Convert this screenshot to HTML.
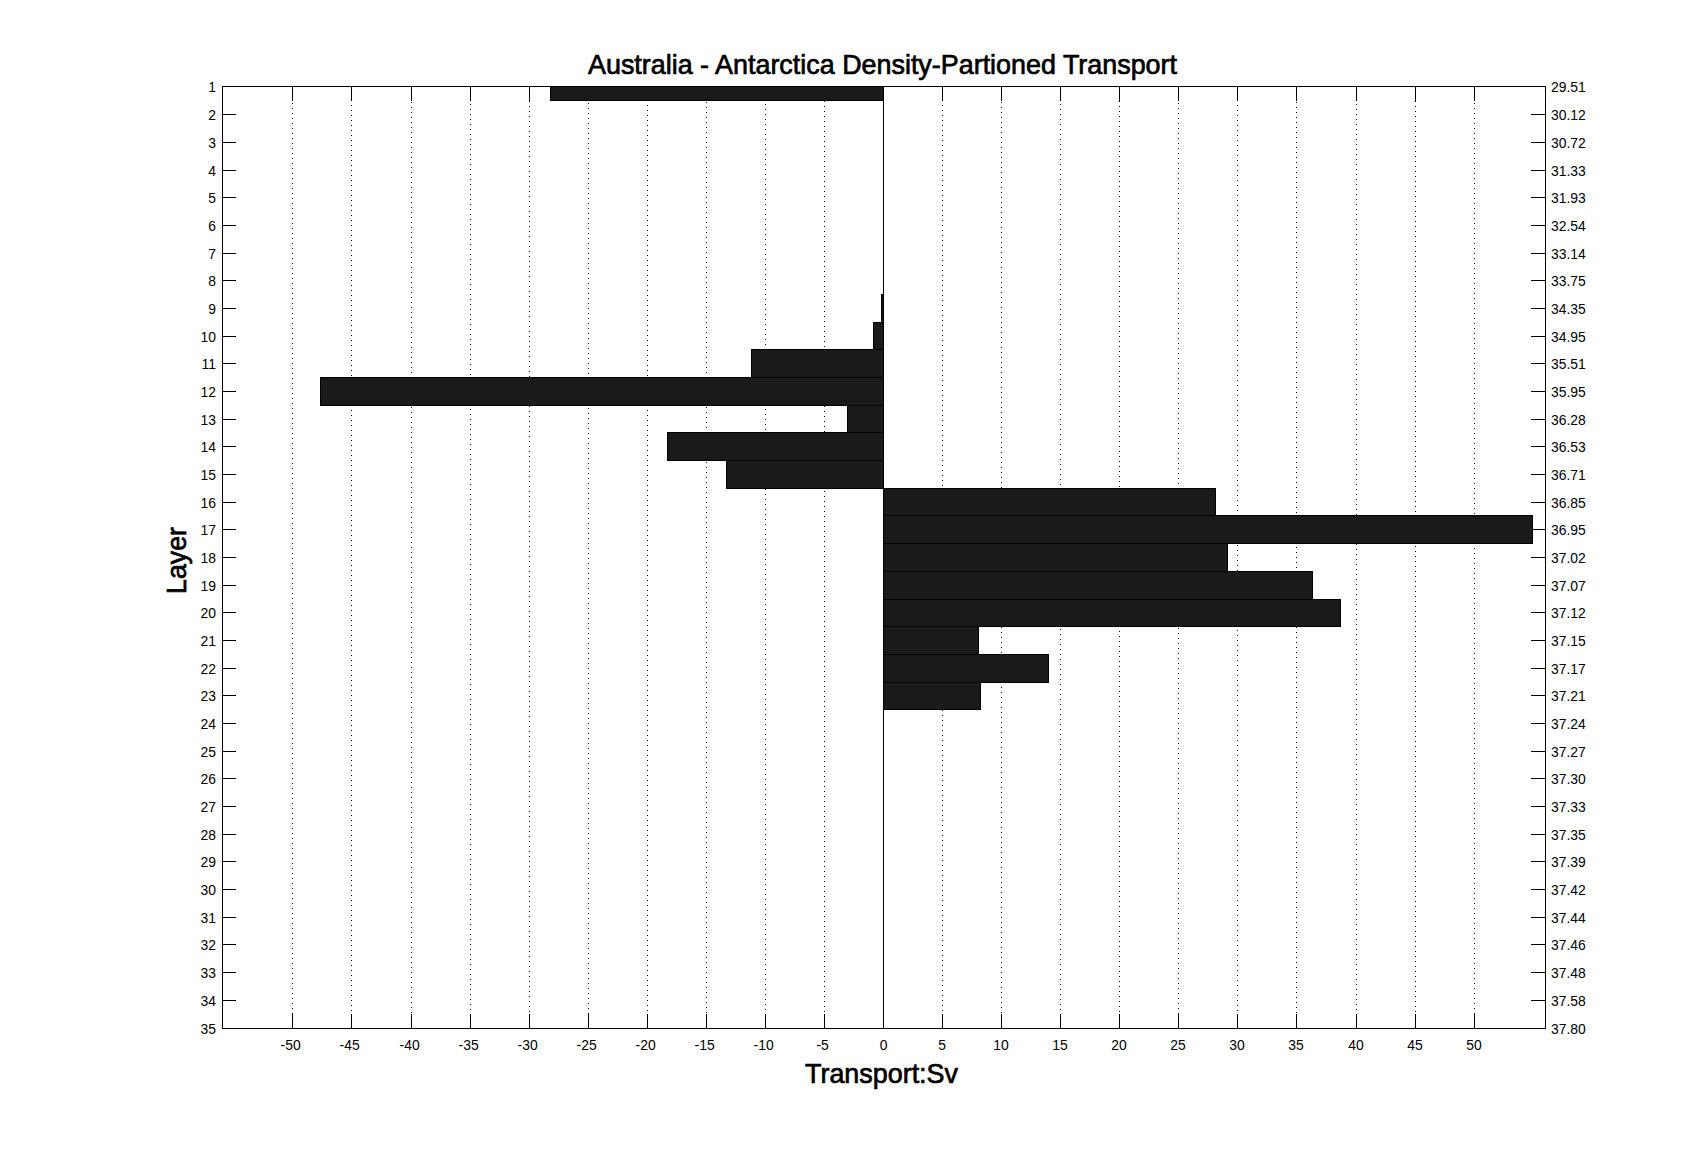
<!DOCTYPE html>
<html lang="en"><head><meta charset="utf-8"><title>Australia - Antarctica Density-Partioned Transport</title>
<style>html,body{margin:0;padding:0;background:#fff;}body{width:1707px;height:1155px;overflow:hidden;}svg{display:block;}
text{font-family:"Liberation Sans",sans-serif;fill:#000;}
.tk{font-size:13.9px;stroke:#000;stroke-width:0.0;}
.big{font-size:27.4px;stroke:#000;stroke-width:0.7;}
.ttl{font-size:27.4px;stroke:#000;stroke-width:0.7;}
</style></head><body>
<svg width="1707" height="1155" viewBox="0 0 1707 1155">
<rect x="0" y="0" width="1707" height="1155" fill="#fff"/>
<g shape-rendering="crispEdges" fill="#000">
<line x1="292.5" y1="103" x2="292.5" y2="1014" stroke="#000" stroke-width="1" stroke-dasharray="1 4"/>
<line x1="351.5" y1="105" x2="351.5" y2="1011" stroke="#000" stroke-width="1" stroke-dasharray="1 4"/>
<line x1="411.5" y1="102" x2="411.5" y2="1013" stroke="#000" stroke-width="1" stroke-dasharray="1 4"/>
<line x1="470.5" y1="104" x2="470.5" y2="1010" stroke="#000" stroke-width="1" stroke-dasharray="1 4"/>
<line x1="529.5" y1="101" x2="529.5" y2="1012" stroke="#000" stroke-width="1" stroke-dasharray="1 4"/>
<line x1="588.5" y1="103" x2="588.5" y2="1014" stroke="#000" stroke-width="1" stroke-dasharray="1 4"/>
<line x1="647.5" y1="105" x2="647.5" y2="1011" stroke="#000" stroke-width="1" stroke-dasharray="1 4"/>
<line x1="706.5" y1="102" x2="706.5" y2="1013" stroke="#000" stroke-width="1" stroke-dasharray="1 4"/>
<line x1="765.5" y1="104" x2="765.5" y2="1010" stroke="#000" stroke-width="1" stroke-dasharray="1 4"/>
<line x1="824.5" y1="101" x2="824.5" y2="1012" stroke="#000" stroke-width="1" stroke-dasharray="1 4"/>
<line x1="942.5" y1="105" x2="942.5" y2="1011" stroke="#000" stroke-width="1" stroke-dasharray="1 4"/>
<line x1="1001.5" y1="102" x2="1001.5" y2="1013" stroke="#000" stroke-width="1" stroke-dasharray="1 4"/>
<line x1="1060.5" y1="104" x2="1060.5" y2="1010" stroke="#000" stroke-width="1" stroke-dasharray="1 4"/>
<line x1="1119.5" y1="101" x2="1119.5" y2="1012" stroke="#000" stroke-width="1" stroke-dasharray="1 4"/>
<line x1="1178.5" y1="103" x2="1178.5" y2="1014" stroke="#000" stroke-width="1" stroke-dasharray="1 4"/>
<line x1="1237.5" y1="105" x2="1237.5" y2="1011" stroke="#000" stroke-width="1" stroke-dasharray="1 4"/>
<line x1="1296.5" y1="102" x2="1296.5" y2="1013" stroke="#000" stroke-width="1" stroke-dasharray="1 4"/>
<line x1="1356.5" y1="104" x2="1356.5" y2="1010" stroke="#000" stroke-width="1" stroke-dasharray="1 4"/>
<line x1="1415.5" y1="101" x2="1415.5" y2="1012" stroke="#000" stroke-width="1" stroke-dasharray="1 4"/>
<line x1="1474.5" y1="103" x2="1474.5" y2="1014" stroke="#000" stroke-width="1" stroke-dasharray="1 4"/>
</g>
<g shape-rendering="crispEdges" fill="#000">
<rect x="292" y="87" width="1" height="14"/>
<rect x="292" y="1014" width="1" height="14"/>
<rect x="351" y="87" width="1" height="14"/>
<rect x="351" y="1014" width="1" height="14"/>
<rect x="411" y="87" width="1" height="14"/>
<rect x="411" y="1014" width="1" height="14"/>
<rect x="470" y="87" width="1" height="14"/>
<rect x="470" y="1014" width="1" height="14"/>
<rect x="529" y="87" width="1" height="14"/>
<rect x="529" y="1014" width="1" height="14"/>
<rect x="588" y="87" width="1" height="14"/>
<rect x="588" y="1014" width="1" height="14"/>
<rect x="647" y="87" width="1" height="14"/>
<rect x="647" y="1014" width="1" height="14"/>
<rect x="706" y="87" width="1" height="14"/>
<rect x="706" y="1014" width="1" height="14"/>
<rect x="765" y="87" width="1" height="14"/>
<rect x="765" y="1014" width="1" height="14"/>
<rect x="824" y="87" width="1" height="14"/>
<rect x="824" y="1014" width="1" height="14"/>
<rect x="883" y="87" width="1" height="14"/>
<rect x="883" y="1014" width="1" height="14"/>
<rect x="942" y="87" width="1" height="14"/>
<rect x="942" y="1014" width="1" height="14"/>
<rect x="1001" y="87" width="1" height="14"/>
<rect x="1001" y="1014" width="1" height="14"/>
<rect x="1060" y="87" width="1" height="14"/>
<rect x="1060" y="1014" width="1" height="14"/>
<rect x="1119" y="87" width="1" height="14"/>
<rect x="1119" y="1014" width="1" height="14"/>
<rect x="1178" y="87" width="1" height="14"/>
<rect x="1178" y="1014" width="1" height="14"/>
<rect x="1237" y="87" width="1" height="14"/>
<rect x="1237" y="1014" width="1" height="14"/>
<rect x="1296" y="87" width="1" height="14"/>
<rect x="1296" y="1014" width="1" height="14"/>
<rect x="1356" y="87" width="1" height="14"/>
<rect x="1356" y="1014" width="1" height="14"/>
<rect x="1415" y="87" width="1" height="14"/>
<rect x="1415" y="1014" width="1" height="14"/>
<rect x="1474" y="87" width="1" height="14"/>
<rect x="1474" y="1014" width="1" height="14"/>
<rect x="223" y="114" width="13" height="1"/>
<rect x="1531" y="114" width="14" height="1"/>
<rect x="223" y="142" width="13" height="1"/>
<rect x="1531" y="142" width="14" height="1"/>
<rect x="223" y="170" width="13" height="1"/>
<rect x="1531" y="170" width="14" height="1"/>
<rect x="223" y="197" width="13" height="1"/>
<rect x="1531" y="197" width="14" height="1"/>
<rect x="223" y="225" width="13" height="1"/>
<rect x="1531" y="225" width="14" height="1"/>
<rect x="223" y="253" width="13" height="1"/>
<rect x="1531" y="253" width="14" height="1"/>
<rect x="223" y="280" width="13" height="1"/>
<rect x="1531" y="280" width="14" height="1"/>
<rect x="223" y="308" width="13" height="1"/>
<rect x="1531" y="308" width="14" height="1"/>
<rect x="223" y="336" width="13" height="1"/>
<rect x="1531" y="336" width="14" height="1"/>
<rect x="223" y="363" width="13" height="1"/>
<rect x="1531" y="363" width="14" height="1"/>
<rect x="223" y="391" width="13" height="1"/>
<rect x="1531" y="391" width="14" height="1"/>
<rect x="223" y="419" width="13" height="1"/>
<rect x="1531" y="419" width="14" height="1"/>
<rect x="223" y="446" width="13" height="1"/>
<rect x="1531" y="446" width="14" height="1"/>
<rect x="223" y="474" width="13" height="1"/>
<rect x="1531" y="474" width="14" height="1"/>
<rect x="223" y="502" width="13" height="1"/>
<rect x="1531" y="502" width="14" height="1"/>
<rect x="223" y="529" width="13" height="1"/>
<rect x="1531" y="529" width="14" height="1"/>
<rect x="223" y="557" width="13" height="1"/>
<rect x="1531" y="557" width="14" height="1"/>
<rect x="223" y="585" width="13" height="1"/>
<rect x="1531" y="585" width="14" height="1"/>
<rect x="223" y="612" width="13" height="1"/>
<rect x="1531" y="612" width="14" height="1"/>
<rect x="223" y="640" width="13" height="1"/>
<rect x="1531" y="640" width="14" height="1"/>
<rect x="223" y="668" width="13" height="1"/>
<rect x="1531" y="668" width="14" height="1"/>
<rect x="223" y="695" width="13" height="1"/>
<rect x="1531" y="695" width="14" height="1"/>
<rect x="223" y="723" width="13" height="1"/>
<rect x="1531" y="723" width="14" height="1"/>
<rect x="223" y="751" width="13" height="1"/>
<rect x="1531" y="751" width="14" height="1"/>
<rect x="223" y="778" width="13" height="1"/>
<rect x="1531" y="778" width="14" height="1"/>
<rect x="223" y="806" width="13" height="1"/>
<rect x="1531" y="806" width="14" height="1"/>
<rect x="223" y="834" width="13" height="1"/>
<rect x="1531" y="834" width="14" height="1"/>
<rect x="223" y="861" width="13" height="1"/>
<rect x="1531" y="861" width="14" height="1"/>
<rect x="223" y="889" width="13" height="1"/>
<rect x="1531" y="889" width="14" height="1"/>
<rect x="223" y="917" width="13" height="1"/>
<rect x="1531" y="917" width="14" height="1"/>
<rect x="223" y="944" width="13" height="1"/>
<rect x="1531" y="944" width="14" height="1"/>
<rect x="223" y="972" width="13" height="1"/>
<rect x="1531" y="972" width="14" height="1"/>
<rect x="223" y="1000" width="13" height="1"/>
<rect x="1531" y="1000" width="14" height="1"/>
</g>
<g shape-rendering="crispEdges">
<rect x="550" y="86" width="334" height="15" fill="#000"/>
<rect x="551" y="87" width="332" height="13" fill="#1a1a1a"/>
<rect x="881" y="294" width="3" height="29" fill="#000"/>
<rect x="882" y="295" width="1" height="27" fill="#1a1a1a"/>
<rect x="873" y="322" width="11" height="28" fill="#000"/>
<rect x="874" y="323" width="9" height="26" fill="#1a1a1a"/>
<rect x="751" y="349" width="133" height="29" fill="#000"/>
<rect x="752" y="350" width="131" height="27" fill="#1a1a1a"/>
<rect x="320" y="377" width="564" height="29" fill="#000"/>
<rect x="321" y="378" width="562" height="27" fill="#1a1a1a"/>
<rect x="847" y="405" width="37" height="28" fill="#000"/>
<rect x="848" y="406" width="35" height="26" fill="#1a1a1a"/>
<rect x="667" y="432" width="217" height="29" fill="#000"/>
<rect x="668" y="433" width="215" height="27" fill="#1a1a1a"/>
<rect x="726" y="460" width="158" height="29" fill="#000"/>
<rect x="727" y="461" width="156" height="27" fill="#1a1a1a"/>
<rect x="883" y="488" width="333" height="28" fill="#000"/>
<rect x="884" y="489" width="331" height="26" fill="#1a1a1a"/>
<rect x="883" y="515" width="650" height="29" fill="#000"/>
<rect x="884" y="516" width="648" height="27" fill="#1a1a1a"/>
<rect x="883" y="543" width="345" height="29" fill="#000"/>
<rect x="884" y="544" width="343" height="27" fill="#1a1a1a"/>
<rect x="883" y="571" width="430" height="29" fill="#000"/>
<rect x="884" y="572" width="428" height="27" fill="#1a1a1a"/>
<rect x="883" y="599" width="458" height="28" fill="#000"/>
<rect x="884" y="600" width="456" height="26" fill="#1a1a1a"/>
<rect x="883" y="626" width="96" height="29" fill="#000"/>
<rect x="884" y="627" width="94" height="27" fill="#1a1a1a"/>
<rect x="883" y="654" width="166" height="29" fill="#000"/>
<rect x="884" y="655" width="164" height="27" fill="#1a1a1a"/>
<rect x="883" y="682" width="98" height="28" fill="#000"/>
<rect x="884" y="683" width="96" height="26" fill="#1a1a1a"/>
</g>
<g shape-rendering="crispEdges" fill="#000">
<rect x="883" y="86" width="1" height="943"/>
<rect x="222" y="86" width="1324" height="1"/>
<rect x="222" y="1028" width="1324" height="1"/>
<rect x="222" y="86" width="1" height="943"/>
<rect x="1545" y="86" width="1" height="943"/>
</g>
<g class="tk" text-anchor="end">
<text x="216" y="92">1</text>
<text x="216" y="120">2</text>
<text x="216" y="148">3</text>
<text x="216" y="176">4</text>
<text x="216" y="203">5</text>
<text x="216" y="231">6</text>
<text x="216" y="259">7</text>
<text x="216" y="286">8</text>
<text x="216" y="314">9</text>
<text x="216" y="342">10</text>
<text x="216" y="369">11</text>
<text x="216" y="397">12</text>
<text x="216" y="425">13</text>
<text x="216" y="452">14</text>
<text x="216" y="480">15</text>
<text x="216" y="508">16</text>
<text x="216" y="535">17</text>
<text x="216" y="563">18</text>
<text x="216" y="591">19</text>
<text x="216" y="618">20</text>
<text x="216" y="646">21</text>
<text x="216" y="674">22</text>
<text x="216" y="701">23</text>
<text x="216" y="729">24</text>
<text x="216" y="757">25</text>
<text x="216" y="784">26</text>
<text x="216" y="812">27</text>
<text x="216" y="840">28</text>
<text x="216" y="867">29</text>
<text x="216" y="895">30</text>
<text x="216" y="923">31</text>
<text x="216" y="950">32</text>
<text x="216" y="978">33</text>
<text x="216" y="1006">34</text>
<text x="216" y="1034">35</text>
</g>
<g class="tk" text-anchor="start">
<text x="1551" y="92">29.51</text>
<text x="1551" y="120">30.12</text>
<text x="1551" y="148">30.72</text>
<text x="1551" y="176">31.33</text>
<text x="1551" y="203">31.93</text>
<text x="1551" y="231">32.54</text>
<text x="1551" y="259">33.14</text>
<text x="1551" y="286">33.75</text>
<text x="1551" y="314">34.35</text>
<text x="1551" y="342">34.95</text>
<text x="1551" y="369">35.51</text>
<text x="1551" y="397">35.95</text>
<text x="1551" y="425">36.28</text>
<text x="1551" y="452">36.53</text>
<text x="1551" y="480">36.71</text>
<text x="1551" y="508">36.85</text>
<text x="1551" y="535">36.95</text>
<text x="1551" y="563">37.02</text>
<text x="1551" y="591">37.07</text>
<text x="1551" y="618">37.12</text>
<text x="1551" y="646">37.15</text>
<text x="1551" y="674">37.17</text>
<text x="1551" y="701">37.21</text>
<text x="1551" y="729">37.24</text>
<text x="1551" y="757">37.27</text>
<text x="1551" y="784">37.30</text>
<text x="1551" y="812">37.33</text>
<text x="1551" y="840">37.35</text>
<text x="1551" y="867">37.39</text>
<text x="1551" y="895">37.42</text>
<text x="1551" y="923">37.44</text>
<text x="1551" y="950">37.46</text>
<text x="1551" y="978">37.48</text>
<text x="1551" y="1006">37.58</text>
<text x="1551" y="1034">37.80</text>
</g>
<g class="tk" text-anchor="middle">
<text x="290.6" y="1050">-50</text>
<text x="349.6" y="1050">-45</text>
<text x="409.6" y="1050">-40</text>
<text x="468.6" y="1050">-35</text>
<text x="527.6" y="1050">-30</text>
<text x="586.6" y="1050">-25</text>
<text x="645.6" y="1050">-20</text>
<text x="704.6" y="1050">-15</text>
<text x="763.6" y="1050">-10</text>
<text x="822.6" y="1050">-5</text>
<text x="883.5" y="1050">0</text>
<text x="942.0" y="1050">5</text>
<text x="1001.0" y="1050">10</text>
<text x="1060.0" y="1050">15</text>
<text x="1119.0" y="1050">20</text>
<text x="1178.0" y="1050">25</text>
<text x="1237.0" y="1050">30</text>
<text x="1296.0" y="1050">35</text>
<text x="1356.0" y="1050">40</text>
<text x="1415.0" y="1050">45</text>
<text x="1474.0" y="1050">50</text>
</g>
<text class="ttl" text-anchor="middle" x="882.5" y="74" textLength="589" lengthAdjust="spacingAndGlyphs">Australia - Antarctica Density-Partioned Transport</text>
<text class="big" text-anchor="middle" x="881.5" y="1083" textLength="153" lengthAdjust="spacingAndGlyphs">Transport:Sv</text>
<text class="big" text-anchor="middle" transform="translate(186 560.5) rotate(-90)" textLength="67" lengthAdjust="spacingAndGlyphs">Layer</text>
</svg></body></html>
